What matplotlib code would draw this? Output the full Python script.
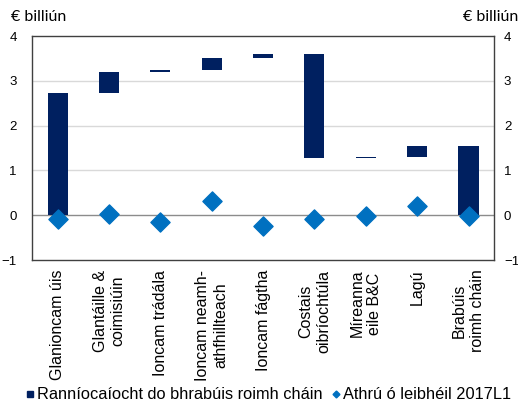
import matplotlib.pyplot as plt
import matplotlib.transforms as mtrans
import numpy as np
from matplotlib.lines import Line2D

plt.rcParams['font.family'] = ['Liberation Sans', 'DejaVu Sans']

# data
catagoirí = ['Glanioncam úis', 'Glantáille &\ncoimisiúin', 'Ioncam trádála',
             'Ioncam neamh-\nathfhillteach', 'Ioncam fágtha', 'Costais\noibríochtúla',
             'Míreanna\neile B&C', 'Lagú', 'Brabúis\nroimh cháin']
ranniocaiocht = [2.73, 0.47, 0.05, 0.27, 0.07, -2.32, 0.04, 0.24]
athru = [-0.08, 0.03, -0.15, 0.31, -0.25, -0.08, -0.01, 0.20, -0.01]

# waterfall: bun agus airde gach barra
iomlan = np.cumsum(ranniocaiocht)
bun = list(np.concatenate([[0], iomlan[:-1]])) + [0]
airde = list(ranniocaiocht) + [iomlan[-1]]

gorm_dorcha = '#002060'
gorm = '#0070c0'

fig = plt.figure(figsize=(5.18, 4.05), dpi=100)
ax = fig.add_axes([0.062, 0.358, 0.892, 0.553])

x = np.arange(len(catagoirí))
ax.bar(x, airde, bottom=bun, width=0.39, color=gorm_dorcha, zorder=3)
ax.scatter(x, athru, marker='D', s=95, color=gorm, zorder=4)

ax.set_xlim(-0.5, len(catagoirí) - 0.5)
ax.set_ylim(-1, 4)
ax.set_yticks([-1, 0, 1, 2, 3, 4])
for y in [1, 2, 3]:
    ax.axhline(y, color='#d9d9d9', lw=1, zorder=1)
ax.axhline(0, color='#8c8c8c', lw=1, zorder=2)

for s in ax.spines.values():
    s.set_color('#404040')
    s.set_linewidth(1)

ax.tick_params(axis='y', length=0, labelsize=9.5, pad=11,
               labelleft=True, labelright=True)
ax.tick_params(axis='x', length=0, pad=7)
ax.set_xticks(x)
ax.set_xticklabels(catagoirí, rotation=90, fontsize=11.5, ha='center', va='top',
                   linespacing=1.25, multialignment='center')

# lipéid ar dheis níos gaire don ais
off = mtrans.ScaledTranslation(-4 / 72, 0, fig.dpi_scale_trans)
for t in ax.yaxis.get_major_ticks():
    t.label2.set_transform(t.label2.get_transform() + off)

fig.text(0.022, 0.958, '€ billiún', fontsize=11.5, family=['Lato', 'DejaVu Sans'], va='center')
fig.text(1.0, 0.958, '€ billiún', fontsize=11.5, family=['Lato', 'DejaVu Sans'], va='center', ha='right')

handles = [Line2D([], [], marker='s', ls='', color=gorm_dorcha, markersize=5,
                  label='Ranníocaíocht do bhrabúis roimh cháin'),
           Line2D([], [], marker='D', ls='', color=gorm, markersize=3.5,
                  label='Athrú ó leibhéil 2017L1')]
fig.legend(handles=handles, loc='center', bbox_to_anchor=(0.518, 0.025), ncol=2,
           frameon=False, fontsize=11.8, handlelength=0.5, handletextpad=0.15,
           columnspacing=0.6, borderpad=0)

fig.savefig('out.png', dpi=100)
